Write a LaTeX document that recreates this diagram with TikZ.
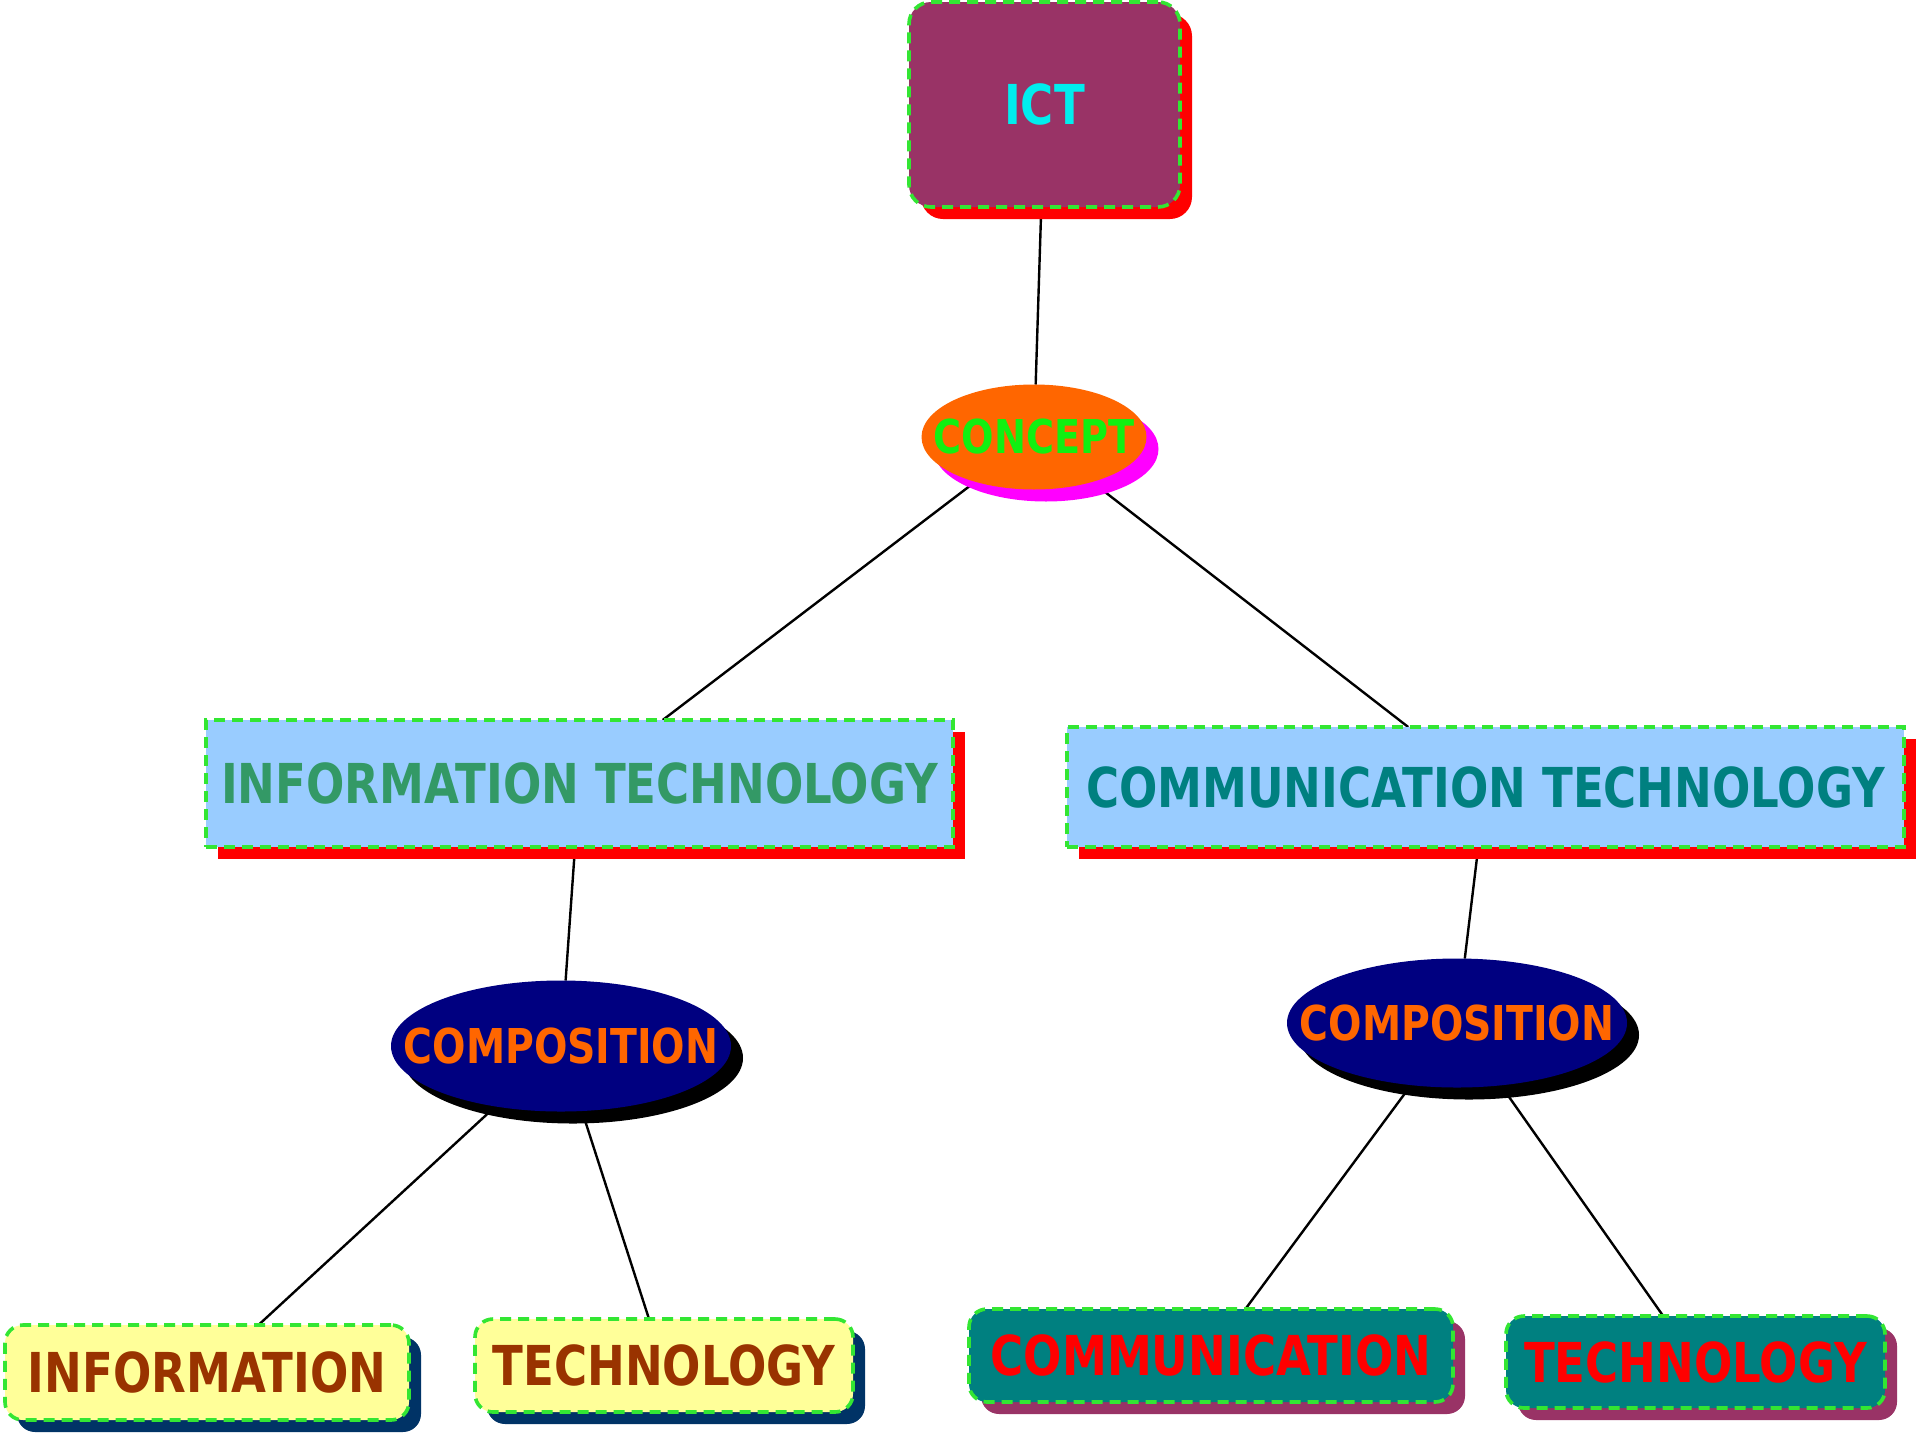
\documentclass[tikz,border=0pt]{standalone}
\usepackage{fontspec}
\newfontfamily\df[FakeStretch=0.82]{DejaVu Sans}
\usetikzlibrary{shapes.geometric,shadows}
\pgfdeclarelayer{bg}
\pgfsetlayers{bg,main}
\definecolor{dgreen}{RGB}{51,230,51}
\definecolor{plum}{RGB}{153,51,102}
\definecolor{ictcyan}{RGB}{0,238,238}
\definecolor{corange}{RGB}{255,102,0}
\definecolor{cgreen}{RGB}{17,240,17}
\definecolor{cmag}{RGB}{255,0,255}
\definecolor{lblue}{RGB}{153,204,255}
\definecolor{seagreen}{RGB}{51,153,102}
\definecolor{tealc}{RGB}{0,128,128}
\definecolor{navyc}{RGB}{0,0,128}
\definecolor{lyellow}{RGB}{255,255,153}
\definecolor{brownc}{RGB}{153,51,0}
\definecolor{dnavy}{RGB}{0,51,102}
\tikzset{
  every node/.style={inner sep=0pt, outer sep=0pt},
  dashb/.style={draw=dgreen, line width=1.8pt, dash pattern=on 5.5pt off 3.5pt},
  bigtxt/.style={font=\df\bfseries\fontsize{27.5pt}{30pt}\selectfont},
  shad/.style={drop shadow={shadow xshift=6pt, shadow yshift=-6pt, fill=#1, opacity=1}},
  ictbox/.style={rectangle, rounded corners=11pt, fill=plum, dashb, shad=red, text=ictcyan, bigtxt},
  conc/.style={ellipse, fill=corange, shad=cmag, text=cgreen, font=\df\bfseries\fontsize{23.3pt}{26pt}\selectfont},
  techbox/.style={rectangle, fill=lblue, dashb, shad=red, bigtxt},
  comp/.style={ellipse, fill=navyc, shad=black, text=corange, font=\df\bfseries\fontsize{24pt}{27pt}\selectfont},
  ybox/.style={rectangle, rounded corners=9pt, fill=lyellow, dashb, shad=dnavy, text=brownc, bigtxt},
  tbox/.style={rectangle, rounded corners=9pt, fill=tealc, dashb, shad=plum, text=red, bigtxt},
  conn/.style={draw=black, line width=1.2pt}
}
\begin{document}
\begin{tikzpicture}[x=0.5pt, y=-0.5pt]
\useasboundingbox (0,0) rectangle (1920,1440);
\node[ictbox, minimum width=135.5pt, minimum height=102.5pt] (ict) at (1044.5,104.5) {ICT};
\node[conc, minimum width=112.5pt, minimum height=52.5pt] (cpt) at (1034,437) {\makebox[0pt]{CONCEPT}};
\node[techbox, text=seagreen, minimum width=373.5pt, minimum height=63.5pt] (it) at (579.5,783.5) {INFORMATION TECHNOLOGY};
\node[techbox, text=tealc, minimum width=418.5pt, minimum height=60pt] (ct) at (1485.5,787) {COMMUNICATION TECHNOLOGY};
\node[comp, minimum width=170pt, minimum height=65.5pt] (compl) at (561,1046) {\makebox[0pt]{COMPOSITION}};
\node[comp, minimum width=170pt, minimum height=64.5pt] (compr) at (1457,1023) {\makebox[0pt]{COMPOSITION}};
\node[ybox, minimum width=202pt, minimum height=47.5pt] (info) at (207,1372.5) {INFORMATION};
\node[ybox, minimum width=189pt, minimum height=46.5pt] (techl) at (664,1365.5) {TECHNOLOGY};
\node[tbox, minimum width=242pt, minimum height=46.5pt] (comm) at (1211,1355.5) {COMMUNICATION};
\node[tbox, minimum width=189.5pt, minimum height=46pt] (techr) at (1695.5,1362) {TECHNOLOGY};
\begin{pgfonlayer}{bg}
\draw[conn] (ict) -- (cpt);
\draw[conn] (cpt) -- (it);
\draw[conn] (cpt) -- (ct);
\draw[conn] (it) -- (compl);
\draw[conn] (ct) -- (compr);
\draw[conn] (compl) -- (info);
\draw[conn] (compl) -- (techl);
\draw[conn] (compr) -- (comm);
\draw[conn] (compr) -- (techr);
\end{pgfonlayer}
\end{tikzpicture}
\end{document}
